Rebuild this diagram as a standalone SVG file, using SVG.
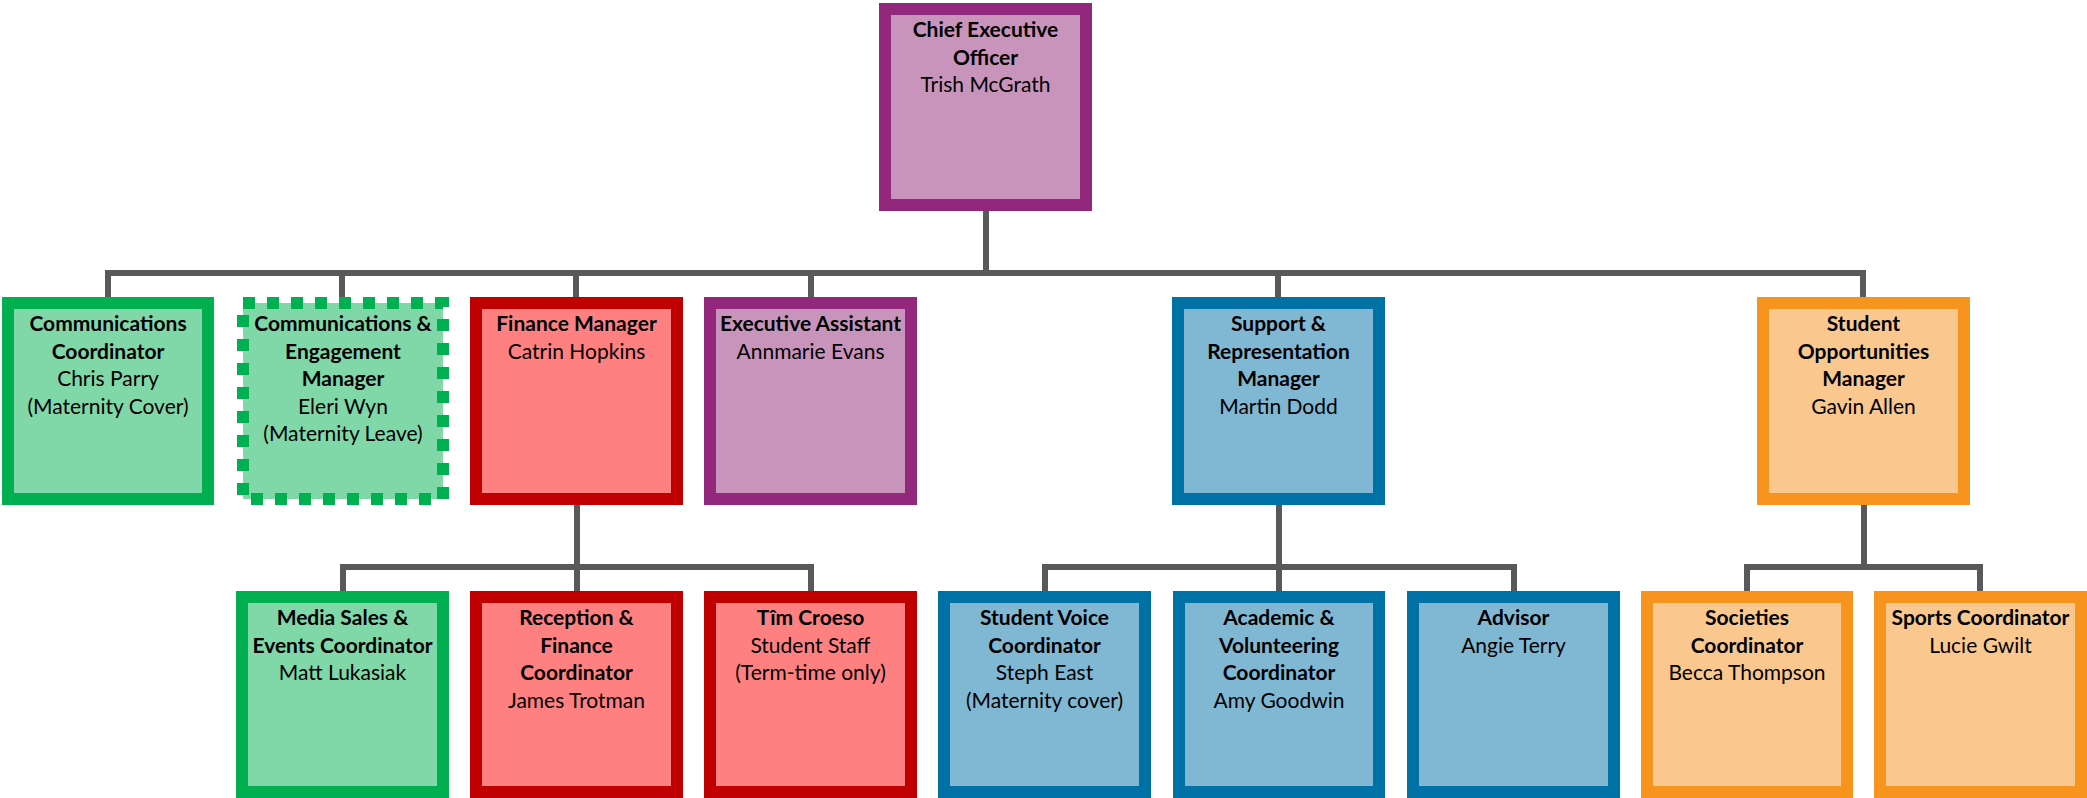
<svg xmlns="http://www.w3.org/2000/svg" width="2087" height="798" viewBox="0 0 2087 798">
<style>
.box{stroke-width:12}
.purple{fill:#C994BC;stroke:#93277C}
.green{fill:#80D7A7;stroke:#00B050}
.red{fill:#FF8080;stroke:#C00000}
.blue{fill:#80B7D2;stroke:#0071A4}
.orange{fill:#FAC88F;stroke:#F7941D}
.dashed{stroke-dasharray:12 12}
text{font-family:Lato,"Liberation Sans",sans-serif;font-size:21px;fill:#000;text-anchor:middle}
.b{font-weight:bold}
.conn{fill:none;stroke:#595959;stroke-width:6}
</style>
<rect width="2087" height="798" fill="#fff"/>
<g id="connectors">
<path class="conn" d="M986,211V273M108,297V273H1863V297M342,273V297M576,273V297M811,273V297M1278,273V297"/>
<path class="conn" d="M577,505V567M343,591V567H811V591M577,567V591"/>
<path class="conn" d="M1279,505V567M1045,591V567H1514V591M1279,567V591"/>
<path class="conn" d="M1864,505V567M1747,591V567H1980V591"/>
</g>
<g id="ceo"><rect class="box purple" x="885" y="9" width="201" height="196"/>
<text x="985.5" y="37"><tspan class="b">Chief Executive</tspan><tspan class="b" x="985.5" dy="27.5">Officer</tspan><tspan x="985.5" dy="27.5">Trish McGrath</tspan></text></g>
<g id="comm-coord"><rect class="box green" x="8" y="303" width="200" height="196"/>
<text x="108" y="331"><tspan class="b">Communications</tspan><tspan class="b" x="108" dy="27.5">Coordinator</tspan><tspan x="108" dy="27.5">Chris Parry</tspan><tspan x="108" dy="27.5">(Maternity Cover)</tspan></text></g>
<g id="comm-eng"><rect class="box green dashed" x="243" y="303" width="200" height="196"/>
<text x="343" y="331"><tspan class="b">Communications &amp;</tspan><tspan class="b" x="343" dy="27.5">Engagement</tspan><tspan class="b" x="343" dy="27.5">Manager</tspan><tspan x="343" dy="27.5">Eleri Wyn</tspan><tspan x="343" dy="27.5">(Maternity Leave)</tspan></text></g>
<g id="finance"><rect class="box red" x="476" y="303" width="201" height="196"/>
<text x="576.5" y="331"><tspan class="b">Finance Manager</tspan><tspan x="576.5" dy="27.5">Catrin Hopkins</tspan></text></g>
<g id="exec"><rect class="box purple" x="710" y="303" width="201" height="196"/>
<text x="810.5" y="331"><tspan class="b">Executive Assistant</tspan><tspan x="810.5" dy="27.5">Annmarie Evans</tspan></text></g>
<g id="support"><rect class="box blue" x="1178" y="303" width="201" height="196"/>
<text x="1278.5" y="331"><tspan class="b">Support &amp;</tspan><tspan class="b" x="1278.5" dy="27.5">Representation</tspan><tspan class="b" x="1278.5" dy="27.5">Manager</tspan><tspan x="1278.5" dy="27.5">Martin Dodd</tspan></text></g>
<g id="opportunities"><rect class="box orange" x="1763" y="303" width="201" height="196"/>
<text x="1863.5" y="331"><tspan class="b">Student</tspan><tspan class="b" x="1863.5" dy="27.5">Opportunities</tspan><tspan class="b" x="1863.5" dy="27.5">Manager</tspan><tspan x="1863.5" dy="27.5">Gavin Allen</tspan></text></g>
<g id="media"><rect class="box green" x="242" y="597" width="201" height="195"/>
<text x="342.5" y="625"><tspan class="b">Media Sales &amp;</tspan><tspan class="b" x="342.5" dy="27.5">Events Coordinator</tspan><tspan x="342.5" dy="27.5">Matt Lukasiak</tspan></text></g>
<g id="reception"><rect class="box red" x="476" y="597" width="201" height="195"/>
<text x="576.5" y="625"><tspan class="b">Reception &amp;</tspan><tspan class="b" x="576.5" dy="27.5">Finance</tspan><tspan class="b" x="576.5" dy="27.5">Coordinator</tspan><tspan x="576.5" dy="27.5">James Trotman</tspan></text></g>
<g id="tim-croeso"><rect class="box red" x="710" y="597" width="201" height="195"/>
<text x="810.5" y="625"><tspan class="b">Tîm Croeso</tspan><tspan x="810.5" dy="27.5">Student Staff</tspan><tspan x="810.5" dy="27.5">(Term-time only)</tspan></text></g>
<g id="student-voice"><rect class="box blue" x="944" y="597" width="201" height="195"/>
<text x="1044.5" y="625"><tspan class="b">Student Voice</tspan><tspan class="b" x="1044.5" dy="27.5">Coordinator</tspan><tspan x="1044.5" dy="27.5">Steph East</tspan><tspan x="1044.5" dy="27.5">(Maternity cover)</tspan></text></g>
<g id="academic"><rect class="box blue" x="1179" y="597" width="200" height="195"/>
<text x="1279" y="625"><tspan class="b">Academic &amp;</tspan><tspan class="b" x="1279" dy="27.5">Volunteering</tspan><tspan class="b" x="1279" dy="27.5">Coordinator</tspan><tspan x="1279" dy="27.5">Amy Goodwin</tspan></text></g>
<g id="advisor"><rect class="box blue" x="1413" y="597" width="201" height="195"/>
<text x="1513.5" y="625"><tspan class="b">Advisor</tspan><tspan x="1513.5" dy="27.5">Angie Terry</tspan></text></g>
<g id="societies"><rect class="box orange" x="1647" y="597" width="200" height="195"/>
<text x="1747" y="625"><tspan class="b">Societies</tspan><tspan class="b" x="1747" dy="27.5">Coordinator</tspan><tspan x="1747" dy="27.5">Becca Thompson</tspan></text></g>
<g id="sports"><rect class="box orange" x="1880" y="597" width="201" height="195"/>
<text x="1980.5" y="625"><tspan class="b">Sports Coordinator</tspan><tspan x="1980.5" dy="27.5">Lucie Gwilt</tspan></text></g>
</svg>
